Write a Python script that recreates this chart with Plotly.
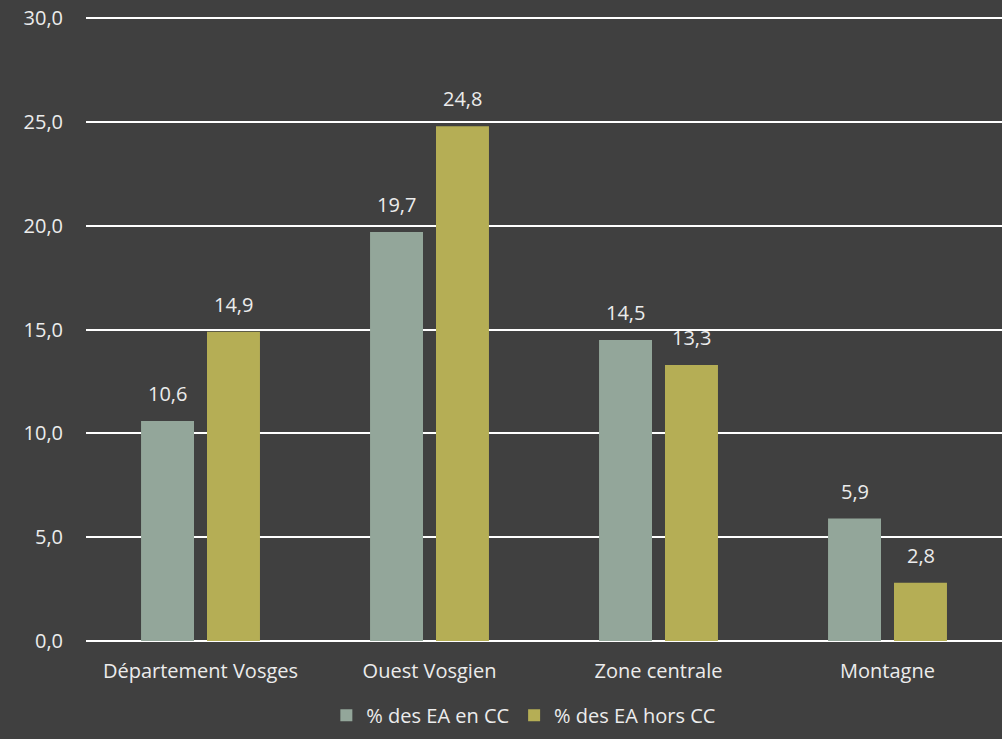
import plotly.graph_objects as go

categories = ["Département Vosges", "Ouest Vosgien", "Zone centrale", "Montagne"]
en_cc = [10.6, 19.7, 14.5, 5.9]
hors_cc = [14.9, 24.8, 13.3, 2.8]
y_ticks = [0, 5, 10, 15, 20, 25, 30]

font_txt = "Open Sans, Liberation Sans, sans-serif"
txt_col = "#ececec"
fsize = 20

fig = go.Figure()
fig.add_trace(go.Bar(x=categories, y=en_cc, name="% des EA en CC",
                     marker=dict(color="#93a69a", line=dict(width=0))))
fig.add_trace(go.Bar(x=categories, y=hors_cc, name="% des EA hors CC",
                     marker=dict(color="#b5ae55", line=dict(width=0))))

# value labels above each bar (bars sit 33 px left/right of the category centre)
for vals, dx in [(en_cc, -33), (hors_cc, 33)]:
    for cat, v in zip(categories, vals):
        fig.add_annotation(x=cat, y=v, text=f"{v:.1f}".replace(".", ","),
                           showarrow=False, xshift=dx, yshift=12, yanchor="bottom",
                           font=dict(size=fsize, color=txt_col))

fig.update_layout(
    width=1002, height=739,
    paper_bgcolor="#404040", plot_bgcolor="#404040",
    margin=dict(l=86, r=0, t=12, b=98),
    separators=", ",
    barmode="group", bargap=0.424, bargroupgap=0.197,
    font=dict(family=font_txt, size=fsize, color=txt_col),
    xaxis=dict(showgrid=False, showline=False, ticks="", ticklabelstandoff=16,
               tickfont=dict(size=fsize, color=txt_col)),
    yaxis=dict(range=[0, 30.3], tickvals=y_ticks, tickformat=".1f",
               showgrid=True, gridcolor="#ffffff", gridwidth=2,
               zeroline=True, zerolinecolor="#ffffff", zerolinewidth=2,
               showline=False, ticks="", ticklabelstandoff=22,
               tickfont=dict(size=fsize, color=txt_col)),
    legend=dict(orientation="h", x=0.478, xanchor="center", y=-0.118, yanchor="middle",
                font=dict(size=fsize, color=txt_col), itemwidth=30,
                traceorder="normal"),
    showlegend=True,
)

fig.write_html("out.html", config={"displayModeBar": False},
               post_script="document.body.style.margin='0';")
